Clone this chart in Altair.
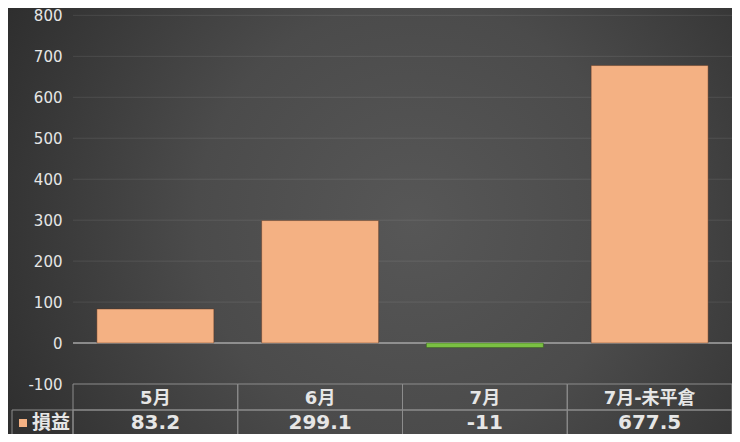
import altair as alt
import pandas as pd

# ---- data ----
categories = ["5月", "6月", "7月", "7月-未平倉"]
values = [83.2, 299.1, -11, 677.5]
value_labels = ["83.2", "299.1", "-11", "677.5"]
y_ticks = [-100, 0, 100, 200, 300, 400, 500, 600, 700, 800]
grid_ticks = [100, 200, 300, 400, 500, 600, 700, 800]
series_name = "損益"

ORANGE = "#F4B183"
GREEN = "#7BC043"
TXT = "#e6e6e6"
FONT = "DejaVu Sans, Noto Sans CJK TC"

bars_df = pd.DataFrame({"cat": categories, "value": values})
grid_df = pd.DataFrame({"tick": grid_ticks})
head_df = pd.DataFrame({"cat": categories, "row": ["head"] * len(categories), "text": categories})
val_df = pd.DataFrame({"cat": categories, "row": ["val"] * len(categories), "text": value_labels})
table_df = pd.concat([head_df, val_df], ignore_index=True)
legend_df = pd.DataFrame({"row": ["val"], "label": [series_name]})
one_df = pd.DataFrame({"a": [0]})

x_enc = alt.X("cat:N", sort=categories,
              scale=alt.Scale(paddingInner=0, paddingOuter=0), axis=None)
y_scale = alt.Scale(domain=[-100, 818], nice=False, zero=False)

gradient = {
    "gradient": "radial",
    "x1": 0.56, "y1": 0.5, "r1": 0,
    "x2": 0.56, "y2": 0.5, "r2": 0.75,
    "stops": [
        {"offset": 0, "color": "#575757"},
        {"offset": 0.4, "color": "#4b4b4b"},
        {"offset": 1, "color": "#242424"},
    ],
}

bg = alt.Chart(one_df).mark_rect(color=gradient).encode(
    x=alt.value(-65), x2=alt.value(659), y=alt.value(0), y2=alt.value(426)
)

grid = alt.Chart(grid_df).mark_rule(color="#ffffff", opacity=0.09, strokeWidth=1).encode(
    y=alt.Y("tick:Q", scale=y_scale)
)

zero = alt.Chart(one_df).mark_rule(color="#a6a6a6", strokeWidth=1.5).encode(
    y=alt.datum(0, scale=y_scale)
)

bars = alt.Chart(bars_df).mark_bar(
    width=alt.RelativeBandSize(0.71), strokeWidth=1, strokeOpacity=0.45
).encode(
    x=x_enc,
    y=alt.Y("value:Q", scale=y_scale,
            axis=alt.Axis(values=y_ticks, grid=False, ticks=False, domain=False,
                          labelColor=TXT, labelFont="DejaVu Sans", labelFontSize=15,
                          labelPadding=11, title=None, zindex=1,
                          labelExpr="datum.value < 0 ? '-' + abs(datum.value) : '' + datum.value")),
    y2=alt.datum(0),
    color=alt.condition("datum.value < 0", alt.value(GREEN), alt.value(ORANGE)),
    stroke=alt.condition("datum.value < 0", alt.value("#2f5a17"), alt.value("#5a3320")),
)

plot = alt.layer(bg, grid, zero, bars)

row_y = alt.Y("row:N", sort=["head", "val"],
              scale=alt.Scale(domain=["head", "val"], range=[376, 428],
                              paddingInner=0, paddingOuter=0),
              axis=None)

cells = alt.Chart(table_df).mark_rect(fill="transparent", stroke="#8c8c8c", strokeWidth=1).encode(
    x=x_enc, y=row_y
)
head_text = alt.Chart(head_df).mark_text(
    font=FONT, fontSize=18, fontWeight="bold", color=TXT, dy=2
).encode(x=x_enc, y=row_y, text="text:N")
val_text = alt.Chart(val_df).mark_text(
    font=FONT, fontSize=20, fontWeight="bold", color=TXT
).encode(x=x_enc, y=row_y, text="text:N")

legend_cell = alt.Chart(legend_df).mark_rect(fill="transparent", stroke="#8c8c8c", strokeWidth=1).encode(
    x=alt.value(-61), x2=alt.value(0), y=row_y
)
legend_sq = alt.Chart(legend_df).mark_square(size=64, color=ORANGE, opacity=1).encode(
    x=alt.value(-50), y=row_y
)
legend_txt = alt.Chart(legend_df).mark_text(
    font=FONT, fontSize=19, fontWeight="bold", color=TXT
).encode(x=alt.value(-22), y=row_y, text="label:N")

table = alt.layer(cells, head_text, val_text, legend_cell, legend_sq, legend_txt)

chart = alt.layer(plot, table).resolve_scale(y="independent").properties(
    width=659,
    height=376,
    autosize="none",
    padding={"left": 65, "top": 0, "right": 0, "bottom": 50},
    background="#2c2c2c",
).configure_view(stroke=None)

chart.save("out.html", embed_options={"renderer": "svg", "actions": False})
